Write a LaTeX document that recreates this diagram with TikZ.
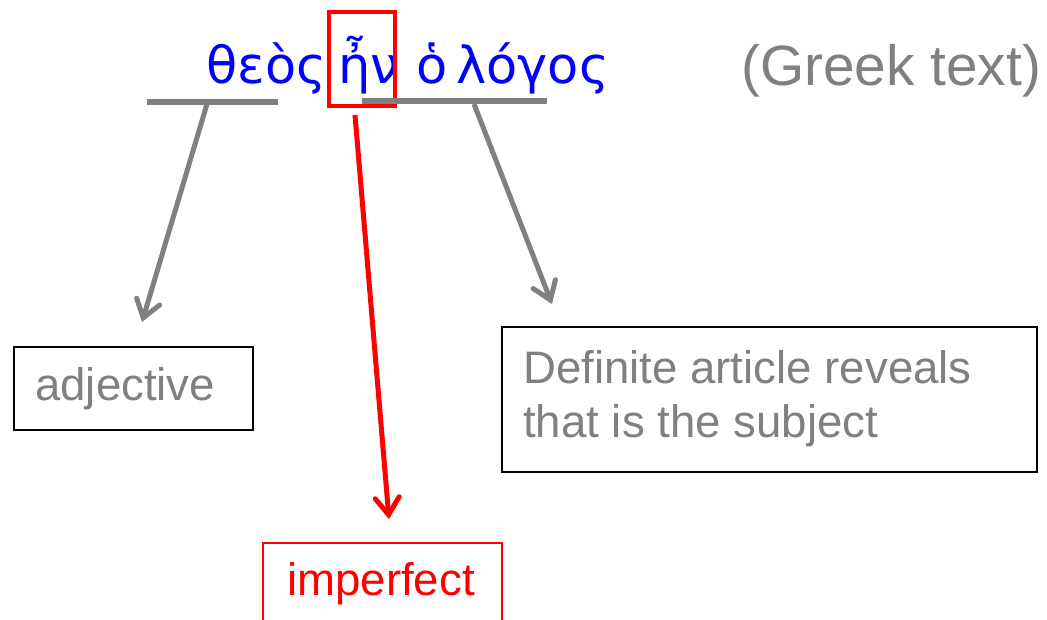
\documentclass[tikz,border=0pt]{standalone}
\usepackage{fontspec}
\setmainfont{Liberation Sans}
\newfontfamily\greekfont{DejaVu Sans}
\usetikzlibrary{arrows.meta}
\definecolor{txtgray}{RGB}{128,128,128}
\definecolor{linegray}{RGB}{128,128,128}
\definecolor{myred}{RGB}{255,0,0}
\begin{document}
\begin{tikzpicture}[x=1pt,y=-1pt,
  lbl/.style={anchor=base west, inner sep=0pt, font=\fontsize{45.6}{54}\selectfont},
  box/.style={draw=black, line width=2pt, anchor=north west, inner sep=0pt},
  barline/.style={draw=linegray, line width=6pt},
  grayarrow/.style={draw=linegray, line width=5pt, -{Straight Barb[length=17pt,width=24pt,line cap=round]}},
  redarrow/.style={draw=myred, line width=5pt, -{Straight Barb[length=17pt,width=24pt,line cap=round]}}
]
\useasboundingbox (0,0) rectangle (1047,620);

% Greek text
\node[anchor=base west, inner sep=0pt, text=blue, font=\greekfont\fontsize{51}{60}\selectfont] (greek) at (206,84) {θεὸς\hspace{12pt}ἦν\hspace{18pt}ὁ\hspace{8pt}λόγος};
\node[anchor=base west, inner sep=0pt, text=txtgray, font=\fontsize{56.8}{64}\selectfont] (gt) at (741,86) {(Greek text)};

% red highlight box
\node[draw=myred, line width=4pt, anchor=north west, minimum width=66pt, minimum height=94pt, inner sep=0pt] (hl) at (327,10) {};

% bars
\coordinate (l1) at (147,102);
\coordinate (l2) at (278,102);
\coordinate (r1) at (362,101);
\coordinate (r2) at (547,101);
\draw[barline] (l1) -- (l2);
\draw[barline] (r1) -- (r2);

% boxes
\node[box, minimum width=239pt, minimum height=83pt] (adj) at (13,346) {};
\node[lbl, text=txtgray] (adjt) at (35,400) {adjective};
\node[box, minimum width=535pt, minimum height=145pt] (def) at (501,326) {};
\node[lbl, text=txtgray] (def1) at (523,383) {Definite article reveals};
\node[lbl, text=txtgray] (def2) at (523,437) {that is the subject};
\node[box, draw=myred, line width=1.5pt, minimum width=239pt, minimum height=110pt] (imp) at (262,542) {};
\node[lbl, text=myred] (impt) at (287,595) {imperfect};

% arrows
\coordinate (a1s) at (207,104);
\coordinate (a1e) at (142,322);
\coordinate (a2s) at (474,104);
\coordinate (a2e) at (552,304);
\coordinate (a3s) at (355,115);
\coordinate (a3e) at (389,519);
\draw[grayarrow] (a1s) -- (a1e);
\draw[grayarrow] (a2s) -- (a2e);
\draw[redarrow] (a3s) -- (a3e);
\end{tikzpicture}
\end{document}
